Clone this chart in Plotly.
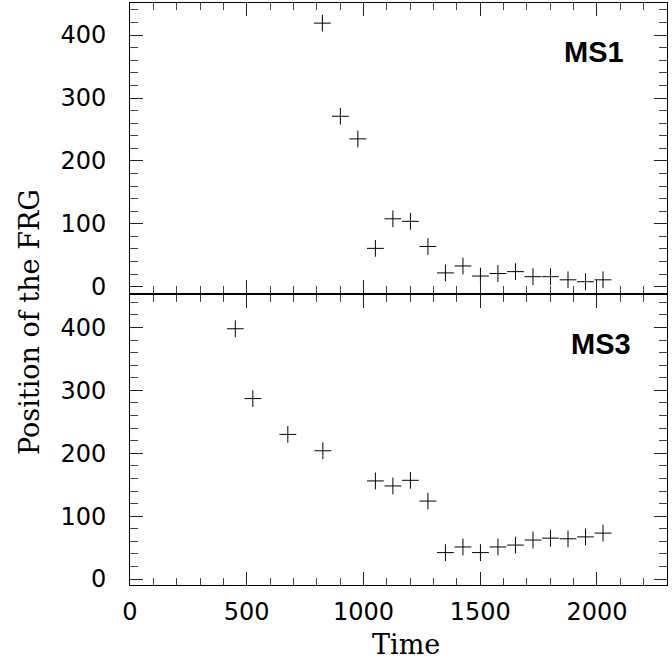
import plotly.graph_objects as go

# ---- data ----
ms1_time = [824, 901, 976, 1051, 1126, 1201, 1276, 1351, 1426, 1501, 1576, 1651, 1726, 1801, 1876, 1951, 2026]
ms1_pos = [419, 271, 235, 61, 108, 104, 64, 22, 33, 17, 21, 24, 16, 16, 11, 8, 11]

ms3_time = [451, 526, 676, 826, 1051, 1126, 1201, 1276, 1351, 1426, 1501, 1576, 1651, 1726, 1801, 1876, 1951, 2026]
ms3_pos = [398, 287, 230, 204, 156, 148, 157, 124, 42, 51, 42, 51, 54, 62, 65, 64, 67, 73]

panel_labels = ["MS1", "MS3"]
x_title = "Time"
y_title = "Position of the FRG"

tick_font = dict(family="DejaVu Sans", size=24, color="black")
serif_font = dict(family="DejaVu Serif", size=27, color="black")

marker = dict(symbol="cross-thin", size=12, color="black",
              line=dict(width=1, color="black"))

fig = go.Figure()
fig.add_trace(go.Scatter(x=ms1_time, y=ms1_pos, mode="markers", marker=marker,
                         xaxis="x", yaxis="y", showlegend=False, name=panel_labels[0]))
fig.add_trace(go.Scatter(x=ms3_time, y=ms3_pos, mode="markers", marker=marker,
                         xaxis="x2", yaxis="y2", showlegend=False, name=panel_labels[1]))

def xax(show_labels, anchor):
    return dict(anchor=anchor, domain=[0, 1], range=[0, 2300], tick0=0, dtick=500,
                ticks="inside", ticklen=13, tickwidth=1, tickcolor="#222",
                minor=dict(dtick=100, ticks="inside", ticklen=7, tickwidth=1, tickcolor="#444"),
                showline=True, linecolor="black", linewidth=1, mirror="ticks",
                showgrid=False, zeroline=False, showticklabels=show_labels,
                tickfont=tick_font, ticklabelstandoff=5)

def yax(domain, anchor):
    return dict(anchor=anchor, domain=domain, range=[-9.5, 451], tick0=0, dtick=100,
                ticks="inside", ticklen=13, tickwidth=1, tickcolor="#222",
                minor=dict(dtick=20, ticks="inside", ticklen=8, tickwidth=1, tickcolor="#444"),
                showline=True, linecolor="black", linewidth=1, mirror="ticks",
                showgrid=False, zeroline=False, tickfont=tick_font, ticklabelstandoff=18)

fig.update_layout(
    width=672, height=662,
    margin=dict(l=130, r=5, t=3, b=77),
    paper_bgcolor="white", plot_bgcolor="white",
    xaxis=xax(False, "y"),
    yaxis=yax([0.5022, 1], "x"),
    xaxis2=xax(True, "y2"),
    yaxis2=yax([0, 0.4975], "x2"),
    annotations=[
        dict(text=panel_labels[0], xref="x domain", yref="y domain", x=0.924, y=0.83,
             xanchor="right", yanchor="middle", showarrow=False,
             font=dict(family="Liberation Sans", size=29, color="black", weight="bold")),
        dict(text=panel_labels[1], xref="x2 domain", yref="y2 domain", x=0.936, y=0.832,
             xanchor="right", yanchor="middle", showarrow=False,
             font=dict(family="Liberation Sans", size=29, color="black", weight="bold")),
        dict(text=x_title, xref="paper", yref="paper", x=(406 - 130) / 537, y=(585 - 644) / 582,
             xanchor="center", yanchor="middle", showarrow=False, font=serif_font),
        dict(text=y_title, xref="paper", yref="paper", x=(29 - 130) / 537, y=(585 - 322) / 582,
             xanchor="center", yanchor="middle", showarrow=False, textangle=-90, font=serif_font),
    ],
)

fig.write_html("out.html", config={"displayModeBar": False},
               post_script="document.body.style.margin='0';document.body.style.overflow='hidden';")
